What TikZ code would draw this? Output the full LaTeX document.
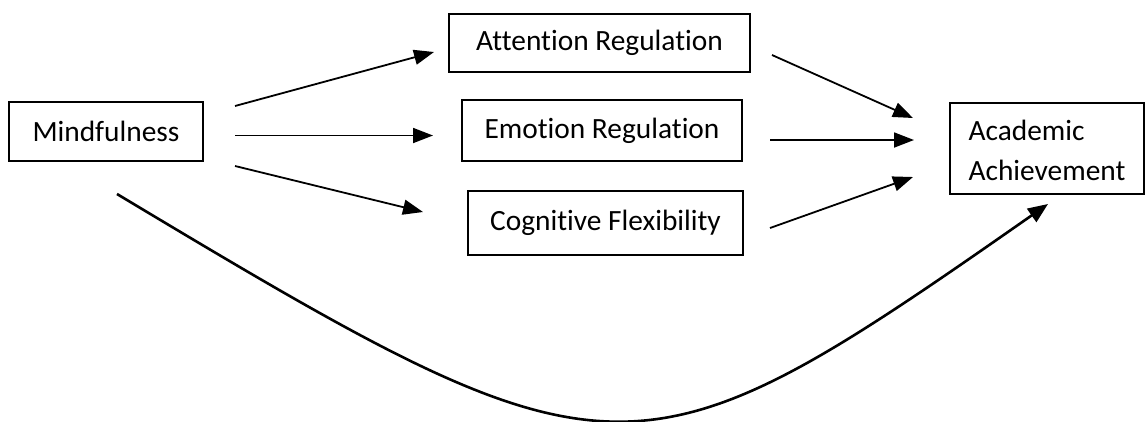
\documentclass[tikz,border=0pt]{standalone}
\usepackage{fontspec}
\setmainfont[Ligatures=NoCommon]{Carlito}
\usetikzlibrary{arrows.meta}
\begin{document}
\begin{tikzpicture}[x=1bp,y=-1bp,
  box/.style={draw,line width=1.8bp,inner sep=0pt,font=\fontsize{29.5}{40}\selectfont},
  link/.style={line width=1.8bp,-{Triangle[length=20bp,width=15bp]}},
  curvelink/.style={line width=2.6bp,-{Triangle[length=20bp,width=16bp]}}]
\useasboundingbox (0,0) rectangle (1146,421);
\node[box,minimum width=194bp,minimum height=59bp] (mind) at (106,131.5) {Mindfulness};
\node[box,minimum width=301bp,minimum height=58bp] (att) at (599.5,43) {Attention Regulation};
\node[box,minimum width=280bp,minimum height=61bp] (emo) at (602,130.5) {Emotion Regulation};
\node[box,minimum width=275bp,minimum height=64bp] (cog) at (605.5,223) {Cognitive Flexibility};
\node[box,minimum width=194bp,minimum height=91bp] (acad) at (1047,148.5)
  {\raisebox{-4bp}[\height][\depth]{\begin{tabular}{@{}l@{}}Academic\\Achievement\end{tabular}}};
\coordinate (m1) at (235,106);
\coordinate (a1) at (434,52);
\coordinate (m2) at (235,135.5);
\coordinate (e1) at (433,135.5);
\coordinate (m3) at (235,166);
\coordinate (c1) at (423,212);
\coordinate (a2) at (772,55);
\coordinate (t1) at (913,118);
\coordinate (e2) at (770,140);
\coordinate (t2) at (914,140);
\coordinate (c2) at (770,228);
\coordinate (t3) at (913,177);
\coordinate (m4) at (117,194);
\coordinate (t4) at (1048,204);
\draw[link] (m1) -- (a1);
\draw[link] (m2) -- (e1);
\draw[link] (m3) -- (c1);
\draw[link] (a2) -- (t1);
\draw[link] (e2) -- (t2);
\draw[link] (c2) -- (t3);
\draw[curvelink] (m4) .. controls (617,494) and (633,494) .. (t4);
\end{tikzpicture}
\end{document}
